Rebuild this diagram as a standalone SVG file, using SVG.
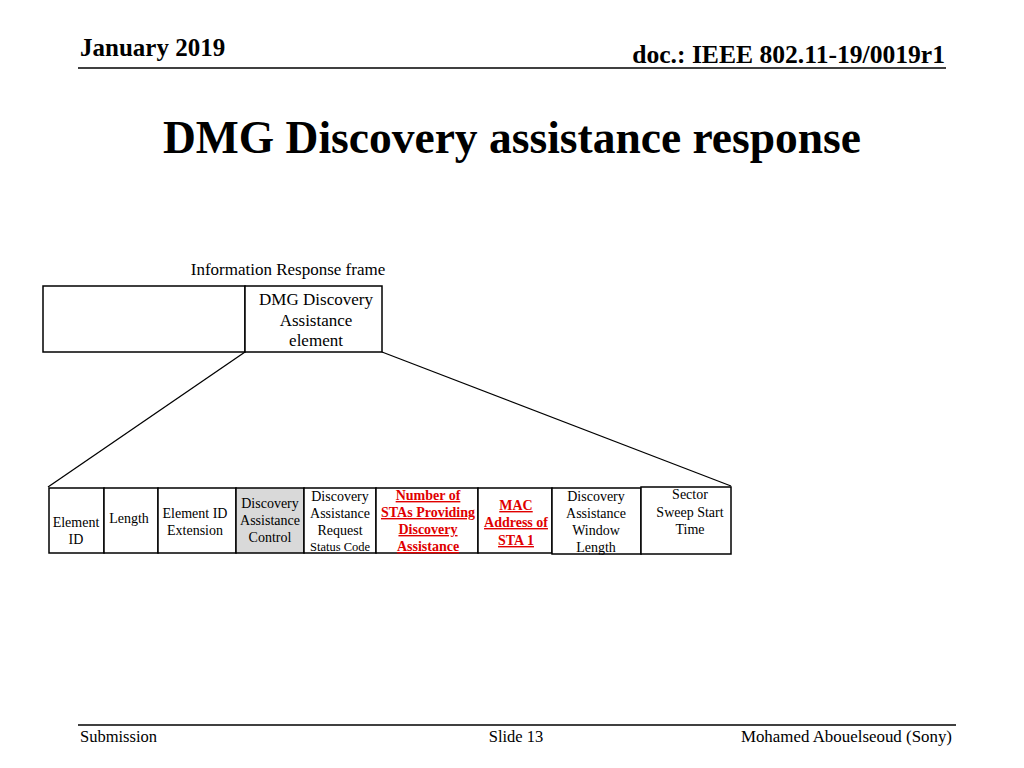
<svg xmlns="http://www.w3.org/2000/svg" width="1024" height="768" viewBox="0 0 1024 768">
<style>
text{font-family:"Liberation Serif","Times New Roman",serif;fill:#000}
.hdr{font-size:25px;font-weight:bold}
.doc{font-size:25.6px;font-weight:bold}
.title{font-size:45.5px;font-weight:bold}
.foot{font-size:16.5px}
.foot2{font-size:16.9px}
.lbl{font-size:17px}
.cell{font-size:14px}
.small{font-size:12.5px}
.red{font-size:14px;font-weight:bold;fill:#e00000;text-decoration:underline}
.box{fill:#fff;stroke:#000;stroke-width:1.5}
.gray{fill:#d9d9d9;stroke:#000;stroke-width:1.5}
.conn{stroke:#000;stroke-width:1.3;fill:none}
.rule{stroke:#000;stroke-width:1.5}
</style>
<rect width="1024" height="768" fill="#fff"/>
<g id="header">
<text class="hdr" x="80" y="56">January 2019</text>
<text class="doc" x="945" y="63" text-anchor="end">doc.: IEEE 802.11-19/0019r1</text>
<line class="rule" x1="78" y1="68" x2="946" y2="68"/>
</g>
<text class="title" x="512" y="153" text-anchor="middle">DMG Discovery assistance response</text>
<g id="frame">
<text class="lbl" x="288" y="275" text-anchor="middle">Information Response frame</text>
<rect class="box" x="43" y="286" width="202" height="66"/>
</g>
<g id="dmg-element">
<rect class="box" x="245" y="286" width="137" height="66"/>
<text class="lbl" text-anchor="middle"><tspan x="316" y="305">DMG Discovery</tspan><tspan x="316" y="326">Assistance</tspan><tspan x="316" y="346">element</tspan></text>
</g>
<g id="connectors">
<line class="conn" x1="245" y1="352" x2="48" y2="487"/>
<line class="conn" x1="382" y1="352" x2="731" y2="486"/>
</g>
<g id="element-id">
<rect class="box" x="49" y="488" width="55" height="65"/>
<text class="cell" text-anchor="middle"><tspan x="76" y="527">Element</tspan><tspan x="76" y="544">ID</tspan></text>
</g>
<g id="length">
<rect class="box" x="104" y="488" width="54" height="65"/>
<text class="cell" x="129" y="523" text-anchor="middle">Length</text>
</g>
<g id="element-id-ext">
<rect class="box" x="158" y="488" width="78" height="65"/>
<text class="cell" text-anchor="middle"><tspan x="195" y="518">Element ID</tspan><tspan x="195" y="535">Extension</tspan></text>
</g>
<g id="da-control">
<rect class="gray" x="236" y="488" width="68" height="65"/>
<text class="cell" text-anchor="middle"><tspan x="270" y="508">Discovery</tspan><tspan x="270" y="525">Assistance</tspan><tspan x="270" y="542">Control</tspan></text>
</g>
<g id="da-status">
<rect class="box" x="304" y="488" width="72" height="65"/>
<text class="cell" text-anchor="middle"><tspan x="340" y="501">Discovery</tspan><tspan x="340" y="518">Assistance</tspan><tspan x="340" y="535">Request</tspan><tspan class="small" x="340" y="551">Status Code</tspan></text>
</g>
<g id="num-stas">
<rect class="box" x="376" y="488" width="102" height="65"/>
<text class="red" text-anchor="middle"><tspan x="428" y="500">Number of</tspan><tspan x="428" y="517">STAs Providing</tspan><tspan x="428" y="534">Discovery</tspan><tspan x="428" y="551">Assistance</tspan></text>
</g>
<g id="mac-addr">
<rect class="box" x="478" y="488" width="74" height="65"/>
<text class="red" text-anchor="middle"><tspan x="516" y="510">MAC</tspan><tspan x="516" y="527">Address of</tspan><tspan x="516" y="545">STA 1</tspan></text>
</g>
<g id="da-window">
<rect class="box" x="552" y="488" width="89" height="66"/>
<text class="cell" text-anchor="middle"><tspan x="596" y="501">Discovery</tspan><tspan x="596" y="518">Assistance</tspan><tspan x="596" y="535">Window</tspan><tspan x="596" y="552">Length</tspan></text>
</g>
<g id="sector-sweep">
<rect class="box" x="641" y="487" width="90" height="67"/>
<text class="cell" text-anchor="middle"><tspan x="690" y="499">Sector</tspan><tspan x="690" y="517">Sweep Start</tspan><tspan x="690" y="534">Time</tspan></text>
</g>
<g id="footer">
<line class="rule" x1="78" y1="725" x2="956" y2="725"/>
<text class="foot" x="80" y="742">Submission</text>
<text class="foot" x="516" y="742" text-anchor="middle">Slide 13</text>
<text class="foot2" x="952" y="742" text-anchor="end">Mohamed Abouelseoud (Sony)</text>
</g>
</svg>
